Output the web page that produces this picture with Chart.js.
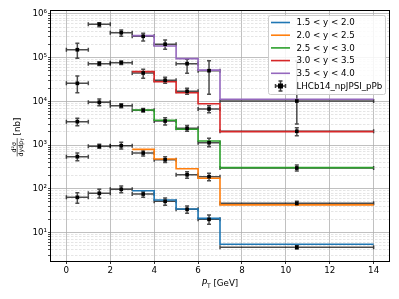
<!DOCTYPE html>
<html>
<head>
<meta charset="utf-8">
<script src="https://cdn.jsdelivr.net/npm/chart.js@4.4.1/dist/chart.umd.min.js"></script>
<style>
    html, body { margin: 0; padding: 0; background: #fff; }
</style>
</head>
<body>
<canvas id="chart" width="399" height="299"></canvas>
<script>
// pT bins of the measurement (centre and half width)
const ptCenters = [0.5, 1.5, 2.5, 3.5, 4.5, 5.5, 6.5, 10.5];
const ptHalfWidths = [0.5, 0.5, 0.5, 0.5, 0.5, 0.5, 0.5, 3.5];

// bin edges of the model histograms (last value repeated up to 14)
const modelEdges = [3, 4, 5, 6, 7, 14];

const rapidityLabels = ['1.5 < y < 2.0', '2.0 < y < 2.5', '2.5 < y < 3.0', '3.0 < y < 3.5', '3.5 < y < 4.0'];
const rapidityColors = ['#1f77b4', '#ff7f0e', '#2ca02c', '#d62728', '#9467bd'];
const dataLabel = 'LHCb14_npJPSI_pPb';

// measured values (already scaled per rapidity bin) with lower / upper error bounds
const meas15_20 = [63.8, 78.9, 97.5, 76, 51.8, 34, 20, 4.6];
const lo15_20 = [46.6, 61.7, 81.5, 63.8, 41.9, 27.5, 15.4, 4.2];
const hi15_20 = [81, 97.5, 116, 87.7, 61.7, 40.4, 25.1, 5.1];

const meas20_25 = [543, 938, 968, 659, 463, 210, 189, 46.5];
const lo20_25 = [440, 850, 815, 562, 400, 174, 153, 42];
const hi20_25 = [659, 1040, 1160, 773, 540, 246, 226, 52];

const meas25_30 = [3440, 9530, 7980, 6250, 3560, 2420, 1136, 299];
const lo25_30 = [2780, 7980, 7200, 5700, 2880, 2070, 918, 255];
const hi25_30 = [4100, 11400, 8800, 6900, 4240, 2800, 1430, 350];

const meas30_35 = [25900, 72900, 76900, 44700, 30400, 17000, 6700, 2070];
const lo30_35 = [15800, 66000, 70000, 33800, 25900, 14500, 5500, 1640];
const hi30_35 = [38100, 81000, 84000, 54300, 35500, 20000, 7900, 2500];

const meas35_40 = [152000, 581000, 373000, 309000, 203000, 72900, 50400, 10200];
const lo35_40 = [97000, 513000, 309000, 241000, 156000, 44000, 14600, 3040];
const hi35_40 = [213000, 631000, 430000, 361000, 254000, 91800, 85300, 84000];

// model predictions for the bins 3-4, 4-5, 5-6, 6-7, 7-14
const model15_20 = [90.6, 55.5, 34.5, 21.1, 5.4];
const model20_25 = [800, 481, 288, 174, 43];
const model25_30 = [6350, 3690, 2300, 1240, 305];
const model30_35 = [47900, 28200, 15800, 8850, 2030];
const model35_40 = [320000, 185000, 95000, 52000, 11200];

const xTicks = [0, 2, 4, 6, 8, 10, 12, 14];

const measurements = [
    { values: meas15_20, lo: lo15_20, hi: hi15_20 },
    { values: meas20_25, lo: lo20_25, hi: hi20_25 },
    { values: meas25_30, lo: lo25_30, hi: hi25_30 },
    { values: meas30_35, lo: lo30_35, hi: hi30_35 },
    { values: meas35_40, lo: lo35_40, hi: hi35_40 }
];
const models = [model15_20, model20_25, model25_30, model30_35, model35_40];

const FONT = 'DejaVu Sans';
const FS = 8.7;
const superscripts = ['⁰', '¹', '²', '³', '⁴', '⁵', '⁶', '⁷'];

const isDecade = (v) => {
    const e = Math.log10(v);
    return Math.abs(e - Math.round(e)) < 1e-6;
};

// errorbars are drawn underneath every dataset
const errorBarPlugin = {
    id: 'errorBars',
    beforeDatasetsDraw(chart) {
        const { ctx, chartArea, scales: { x, y } } = chart;
        ctx.save();
        ctx.beginPath();
        ctx.rect(chartArea.left, chartArea.top, chartArea.width, chartArea.height);
        ctx.clip();
        ctx.strokeStyle = 'rgba(0,0,0,0.7)';
        ctx.lineWidth = 1.5;
        const cap = 2;
        for (let m of measurements) {
            ptCenters.forEach((c, i) => {
                const px = x.getPixelForValue(c);
                const py = y.getPixelForValue(m.values[i]);
                const x0 = x.getPixelForValue(c - ptHalfWidths[i]);
                const x1 = x.getPixelForValue(c + ptHalfWidths[i]);
                const y0 = y.getPixelForValue(m.lo[i]);
                const y1 = y.getPixelForValue(m.hi[i]);
                ctx.beginPath();
                ctx.moveTo(x0, py); ctx.lineTo(x1, py);
                ctx.moveTo(x0, py - cap); ctx.lineTo(x0, py + cap);
                ctx.moveTo(x1, py - cap); ctx.lineTo(x1, py + cap);
                ctx.moveTo(px, y0); ctx.lineTo(px, y1);
                ctx.moveTo(px - cap, y0); ctx.lineTo(px + cap, y0);
                ctx.moveTo(px - cap, y1); ctx.lineTo(px + cap, y1);
                ctx.stroke();
            });
        }
        ctx.restore();
    }
};

// frame, axis titles and the legend inside the plot
const decorPlugin = {
    id: 'decor',
    afterDraw(chart) {
        const { ctx, chartArea } = chart;
        const { left, top, right, bottom } = chartArea;
        ctx.save();

        ctx.strokeStyle = '#000';
        ctx.lineWidth = 1;
        ctx.strokeRect(Math.round(left) - 0.5, Math.round(top) - 0.5,
            Math.round(right) - Math.round(left) + 1, Math.round(bottom) - Math.round(top) + 1);

        // x title: P_T [GeV]
        ctx.fillStyle = '#000';
        ctx.textBaseline = 'alphabetic';
        ctx.textAlign = 'left';
        const italic = `italic ${FS}px ${FONT}`;
        const normal = `${FS}px ${FONT}`;
        const small = `${FS * 0.7}px ${FONT}`;
        ctx.font = italic; const wP = ctx.measureText('P').width;
        ctx.font = small; const wT = ctx.measureText('T').width;
        ctx.font = normal; const wG = ctx.measureText(' [GeV]').width;
        let tx = (left + right) / 2 - (wP + wT + wG) / 2;
        const ty = 285.5;
        ctx.font = italic; ctx.fillText('P', tx, ty); tx += wP;
        ctx.font = small; ctx.fillText('T', tx, ty + 2); tx += wT;
        ctx.font = normal; ctx.fillText(' [GeV]', tx, ty);

        // y title: d²σ / dy dp_T [nb], rotated
        ctx.save();
        ctx.translate(17, (top + bottom) / 2 + 1);
        ctx.rotate(-Math.PI / 2);
        const fracFont = `${FS * 0.72}px ${FONT}`;
        const fracSub = `${FS * 0.5}px ${FONT}`;
        ctx.font = fracFont;
        const wNum = ctx.measureText('d²σ').width;
        const wDen1 = ctx.measureText('dydp').width;
        ctx.font = fracSub;
        const wDenT = ctx.measureText('T').width;
        const wDen = wDen1 + wDenT;
        ctx.font = normal;
        const wNb = ctx.measureText(' [nb]').width;
        const total = wDen + wNb;
        let fx = -total / 2;
        ctx.font = fracFont;
        ctx.fillText('d²σ', fx + (wDen - wNum) / 2, -1.5);
        ctx.fillText('dydp', fx, 5.5);
        ctx.font = fracSub;
        ctx.fillText('T', fx + wDen1, 7);
        ctx.lineWidth = 0.6;
        ctx.beginPath(); ctx.moveTo(fx, 0.2); ctx.lineTo(fx + wDen, 0.2); ctx.stroke();
        ctx.font = normal;
        ctx.fillText(' [nb]', fx + wDen, 3);
        ctx.restore();

        // legend
        const lx = right - 121, ly = top + 4, lw = 117, lh = 79;
        ctx.fillStyle = 'rgba(255,255,255,0.85)';
        ctx.strokeStyle = '#cccccc';
        ctx.lineWidth = 1;
        ctx.beginPath();
        ctx.roundRect(lx + 0.5, ly + 0.5, lw, lh, 2);
        ctx.fill(); ctx.stroke();
        ctx.font = normal;
        ctx.textBaseline = 'middle';
        const rowY = (i) => ly + 7.5 + i * 12.7;
        rapidityLabels.forEach((lab, i) => {
            ctx.strokeStyle = rapidityColors[i];
            ctx.lineWidth = 1.6;
            ctx.beginPath(); ctx.moveTo(lx + 3, rowY(i)); ctx.lineTo(lx + 22, rowY(i)); ctx.stroke();
            ctx.fillStyle = '#000';
            ctx.fillText(lab, lx + 28.5, rowY(i) + 0.5);
        });
        const ey = rowY(5), ex = lx + 12.5;
        ctx.strokeStyle = 'rgba(0,0,0,0.75)';
        ctx.lineWidth = 1.5;
        ctx.beginPath();
        ctx.moveTo(ex - 5, ey); ctx.lineTo(ex + 5, ey);
        ctx.moveTo(ex - 5, ey - 2); ctx.lineTo(ex - 5, ey + 2);
        ctx.moveTo(ex + 5, ey - 2); ctx.lineTo(ex + 5, ey + 2);
        ctx.moveTo(ex, ey - 5); ctx.lineTo(ex, ey + 5);
        ctx.moveTo(ex - 2, ey - 5); ctx.lineTo(ex + 2, ey - 5);
        ctx.moveTo(ex - 2, ey + 5); ctx.lineTo(ex + 2, ey + 5);
        ctx.stroke();
        ctx.fillStyle = '#000';
        ctx.fillRect(ex - 2.5, ey - 2.5, 5, 5);
        ctx.fillText(dataLabel, lx + 28.5, ey + 0.5);

        ctx.restore();
    }
};

const datasets = [];
measurements.forEach((m) => {
    datasets.push({
        type: 'scatter',
        data: ptCenters.map((c, i) => ({ x: c, y: m.values[i] })),
        pointStyle: 'rect',
        pointRadius: 2.6,
        backgroundColor: '#000',
        borderColor: '#000',
        borderWidth: 0
    });
});
models.forEach((vals, k) => {
    datasets.push({
        type: 'line',
        data: modelEdges.map((e, i) => ({ x: e, y: vals[Math.min(i, vals.length - 1)] })),
        stepped: true,
        borderColor: rapidityColors[k],
        borderWidth: 1.6,
        pointRadius: 0,
        fill: false
    });
});

new Chart(document.getElementById('chart'), {
    data: { datasets },
    options: {
        responsive: false,
        animation: false,
        devicePixelRatio: 1,
        layout: { padding: { top: 11, right: 10, left: 0, bottom: 0 } },
        plugins: { legend: { display: false }, tooltip: { enabled: false } },
        scales: {
            x: {
                type: 'linear',
                min: -0.7,
                max: 14.7,
                afterBuildTicks: (s) => { s.ticks = xTicks.map((v) => ({ value: v })); },
                afterFit: (s) => { s.height = 38; },
                ticks: { font: { family: FONT, size: FS }, color: '#000', padding: 2, maxRotation: 0, autoSkip: false },
                grid: { color: '#b0b0b0', lineWidth: 0.8, tickLength: 3, tickColor: '#000', tickWidth: 0.8 },
                border: { display: false }
            },
            y: {
                type: 'logarithmic',
                min: 2.23,
                max: 1.17e6,
                afterBuildTicks: (s) => {
                    const t = [];
                    for (let e = 0; e <= 6; e++) {
                        for (let m = 1; m <= 9; m++) {
                            const v = m * Math.pow(10, e);
                            if (v >= s.min && v <= s.max) t.push({ value: v });
                        }
                    }
                    s.ticks = t;
                },
                afterFit: (s) => { s.width = 51; },
                ticks: {
                    font: { family: FONT, size: FS },
                    color: '#000',
                    padding: 1,
                    autoSkip: false,
                    callback: (v) => isDecade(v) ? '10' + superscripts[Math.round(Math.log10(v))] : ''
                },
                grid: {
                    color: (c) => c.tick && isDecade(c.tick.value) ? '#b0b0b0' : '#d4d4d4',
                    lineWidth: (c) => c.tick && isDecade(c.tick.value) ? 0.8 : 0.6,
                    tickLength: 3,
                    tickColor: '#000',
                    tickWidth: 0.7
                },
                border: {
                    display: false,
                    dash: (c) => c.tick && isDecade(c.tick.value) ? [] : [2.5, 1.5]
                }
            }
        }
    },
    plugins: [errorBarPlugin, decorPlugin]
});
</script>
</body>
</html>
